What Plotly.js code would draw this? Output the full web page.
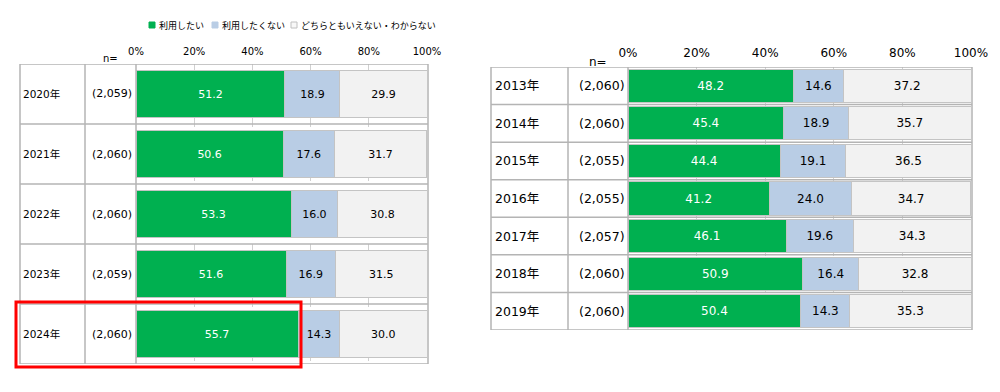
<!DOCTYPE html>
<html>
<head>
<meta charset="utf-8">
<script src="https://cdn.plot.ly/plotly-3.0.1.min.js"></script>
<style>html,body{margin:0;padding:0;background:#fff;}#chart{width:1000px;height:392px;}</style>
</head>
<body>
<div id="chart"></div>
<script>
// ---- Data ----
const seriesNames = ['利用したい', '利用したくない', 'どちらともいえない・わからない'];

const leftYears = ['2020年', '2021年', '2022年', '2023年', '2024年'];
const leftN = ['(2,059)', '(2,060)', '(2,060)', '(2,059)', '(2,060)'];
const leftWant = [51.2, 50.6, 53.3, 51.6, 55.7];
const leftNotWant = [18.9, 17.6, 16.0, 16.9, 14.3];
const leftNeither = [29.9, 31.7, 30.8, 31.5, 30.0];

const rightYears = ['2013年', '2014年', '2015年', '2016年', '2017年', '2018年', '2019年'];
const rightN = ['(2,060)', '(2,060)', '(2,055)', '(2,055)', '(2,057)', '(2,060)', '(2,060)'];
const rightWant = [48.2, 45.4, 44.4, 41.2, 46.1, 50.9, 50.4];
const rightNotWant = [14.6, 18.9, 19.1, 24.0, 19.6, 16.4, 14.3];
const rightNeither = [37.2, 35.7, 36.5, 34.7, 34.3, 32.8, 35.3];

const tickVals = [0, 20, 40, 60, 80, 100];
const tickText = ['0%', '20%', '40%', '60%', '80%', '100%'];

// ---- Style ----
const colors = ['#00b050', '#b9cde5', '#f2f2f2'];
const textColors = ['#ffffff', '#000000', '#000000'];
const FONT = 'DejaVu Sans, Noto Sans CJK JP, sans-serif';
const lineCol = '#b4b4b4';
const W = 1000, H = 392;
const px = v => v / W;
const py = v => 1 - v / H;

function mkTraces(years, series, xa, ya, width, fsize) {
  return series.map((vals, i) => ({
    type: 'bar', orientation: 'h',
    y: years, x: vals, name: seriesNames[i],
    xaxis: xa, yaxis: ya, width: width,
    marker: {color: colors[i], line: {color: '#c4c4c4', width: 1}},
    texttemplate: '%{x:.1f}', textposition: 'inside', insidetextanchor: 'middle',
    textangle: 0, constraintext: 'none',
    textfont: {family: FONT, size: fsize, color: textColors[i]},
    hoverinfo: 'skip', showlegend: false
  }));
}

const data = [
  ...mkTraces(leftYears, [leftWant, leftNotWant, leftNeither], 'x', 'y', 0.77, 11),
  ...mkTraces(rightYears, [rightWant, rightNotWant, rightNeither], 'x2', 'y2', 0.88, 12)
];

const shapes = [];
const annotations = [];

function table(years, nLabels, yref, xL, xDiv1, xDiv2, xR, yearX, nX, ysize, nsize) {
  const n = years.length;
  shapes.push({type: 'rect', xref: 'paper', yref: yref, x0: px(xL), x1: px(xR), y0: -0.5, y1: n - 0.5,
    line: {color: lineCol, width: 1.5}, layer: 'above'});
  [xDiv1, xDiv2].forEach(xv => shapes.push({type: 'line', xref: 'paper', yref: yref,
    x0: px(xv), x1: px(xv), y0: -0.5, y1: n - 0.5, line: {color: lineCol, width: 1.5}, layer: 'above'}));
  for (let i = 0; i < n - 1; i++) {
    shapes.push({type: 'line', xref: 'paper', yref: yref, x0: px(xL), x1: px(xR), y0: i + 0.5, y1: i + 0.5,
      line: {color: lineCol, width: 1.5}, layer: 'above'});
  }
  years.forEach((yr, i) => {
    annotations.push({xref: 'paper', yref: yref, x: px(yearX), y: yr, text: yr, showarrow: false,
      xanchor: 'left', yanchor: 'middle', font: {family: FONT, size: ysize, color: '#000'}});
    annotations.push({xref: 'paper', yref: yref, x: px(nX), y: yr, text: nLabels[i], showarrow: false,
      xanchor: 'right', yanchor: 'middle', font: {family: FONT, size: nsize, color: '#000'}});
  });
}

table(leftYears, leftN, 'y', 20, 85, 136, 428, 21, 134, 10.5, 11);
table(rightYears, rightN, 'y2', 491, 568, 628, 972, 493, 627, 12.5, 12.5);

annotations.push({xref: 'paper', yref: 'paper', x: px(110), y: py(59), text: 'n=', showarrow: false,
  xanchor: 'center', yanchor: 'middle', font: {family: FONT, size: 10, color: '#000'}});
annotations.push({xref: 'paper', yref: 'paper', x: px(598), y: py(62), text: 'n=', showarrow: false,
  xanchor: 'center', yanchor: 'middle', font: {family: FONT, size: 12, color: '#000'}});

// legend (manual)
const legItems = [[149, 157], [212, 220], [291, 299]];
legItems.forEach((it, i) => {
  shapes.push({type: 'rect', xref: 'paper', yref: 'paper', x0: px(it[0]), x1: px(it[0] + 6),
    y0: py(28), y1: py(22), fillcolor: i === 2 ? '#f8f8f8' : colors[i],
    line: {color: i === 2 ? '#c0c0c0' : colors[i], width: 1}});
  annotations.push({xref: 'paper', yref: 'paper', x: px(it[1]), y: py(25), text: seriesNames[i],
    showarrow: false, xanchor: 'left', yanchor: 'middle',
    font: {family: 'Noto Sans CJK JP, sans-serif', size: 9, color: '#000'}});
});

// highlight box around 2024
shapes.push({type: 'rect', xref: 'paper', yref: 'paper', x0: px(16), x1: px(301), y0: py(367), y1: py(302),
  line: {color: '#ff0000', width: 3}, layer: 'above'});

const xaxisBase = {
  range: [0, 100], side: 'top', tickmode: 'array', tickvals: tickVals, ticktext: tickText,
  showgrid: true, gridcolor: '#d0d0d0', griddash: 'dash', gridwidth: 1,
  zeroline: false, showline: false, ticks: '', fixedrange: true
};

const layout = {
  width: W, height: H,
  margin: {l: 0, r: 0, t: 0, b: 0},
  paper_bgcolor: '#fff', plot_bgcolor: 'rgba(0,0,0,0)',
  barmode: 'stack', showlegend: false,
  xaxis: Object.assign({}, xaxisBase, {domain: [px(136), px(427)], anchor: 'y',
    tickfont: {family: FONT, size: 10, color: '#000'}, ticklabelstandoff: 6}),
  yaxis: {domain: [py(364), py(64)], type: 'category', range: [4.5, -0.5], showticklabels: false,
    showgrid: false, zeroline: false, fixedrange: true, anchor: 'x'},
  xaxis2: Object.assign({}, xaxisBase, {domain: [px(628), px(971)], anchor: 'y2',
    tickfont: {family: FONT, size: 12, color: '#000'}, ticklabelstandoff: 7}),
  yaxis2: {domain: [py(330), py(67)], type: 'category', range: [6.5, -0.5], showticklabels: false,
    showgrid: false, zeroline: false, fixedrange: true, anchor: 'x2'},
  shapes: shapes,
  annotations: annotations,
  font: {family: FONT}
};

Plotly.newPlot('chart', data, layout, {displayModeBar: false, staticPlot: true});
</script>
</body>
</html>
